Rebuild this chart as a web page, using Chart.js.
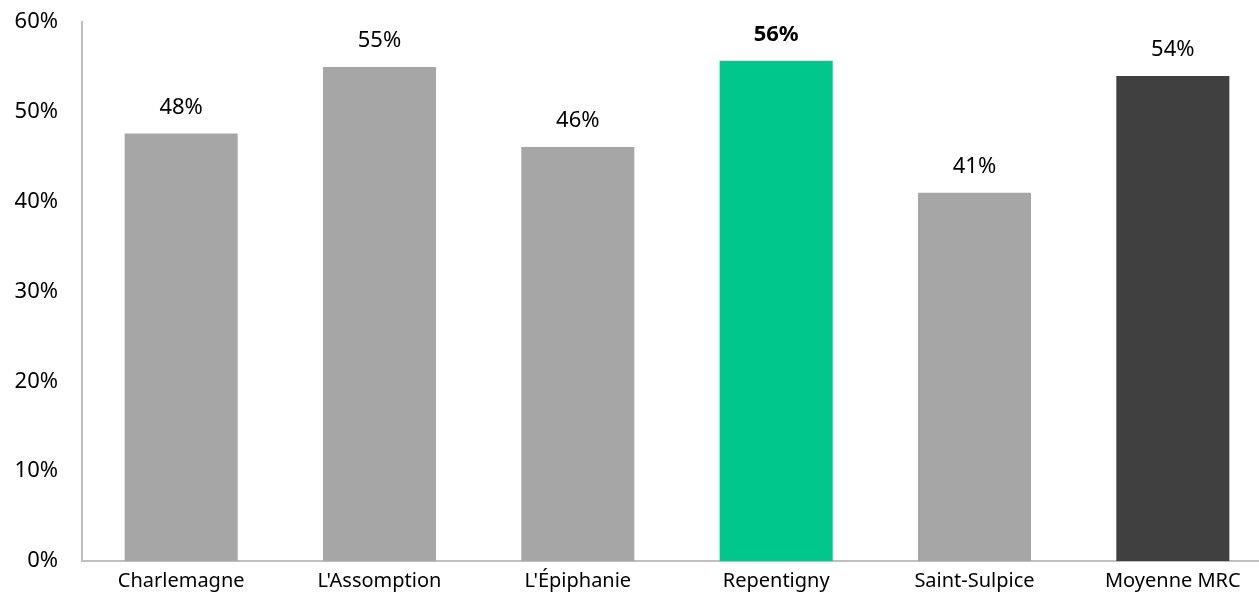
<!DOCTYPE html>
<html>
<head>
<meta charset="utf-8">
<script src="https://cdn.jsdelivr.net/npm/chart.js@4"></script>
<style>
    html, body { margin: 0; padding: 0; background: #fff; overflow: hidden; }
    #wrap { width: 1272px; height: 616px; position: relative; margin-top: -15px; }
</style>
</head>
<body>
<div id="wrap"><canvas id="bar-chart"></canvas></div>
<script>
// 数据
const categories = ['Charlemagne', "L'Assomption", "L'Épiphanie", 'Repentigny', 'Saint-Sulpice', 'Moyenne MRC'];
const values = [47.6, 55.0, 46.1, 55.7, 41.0, 54.0];
const valueLabels = ['48%', '55%', '46%', '56%', '41%', '54%'];
const barColors = ['#a6a6a6', '#a6a6a6', '#a6a6a6', '#00c78c', '#a6a6a6', '#404040'];
const boldIndex = 3; // Repentigny 标签加粗

const FONT = "'Noto Sans', 'Open Sans', sans-serif";

// 柱顶数值标签
const valueLabelPlugin = {
    id: 'valueLabels',
    afterDatasetsDraw(chart) {
        const ctx = chart.ctx;
        const meta = chart.getDatasetMeta(0);
        ctx.save();
        ctx.fillStyle = '#000';
        ctx.textAlign = 'center';
        ctx.textBaseline = 'middle';
        meta.data.forEach((bar, i) => {
            ctx.font = (i === boldIndex ? 'bold ' : '') + '22px ' + FONT;
            ctx.fillText(valueLabels[i], bar.x, bar.y - 26);
        });
        ctx.restore();
    }
};

new Chart(document.getElementById('bar-chart'), {
    type: 'bar',
    data: {
        labels: categories,
        datasets: [{
            data: values,
            backgroundColor: barColors,
            borderWidth: 0,
            categoryPercentage: 1.0,
            barPercentage: 0.57
        }]
    },
    options: {
        responsive: true,
        maintainAspectRatio: false,
        animation: false,
        layout: { padding: { top: 7, right: 0, bottom: 0, left: 0 } },
        plugins: {
            legend: { display: false },
            tooltip: { enabled: false }
        },
        scales: {
            x: {
                grid: { display: false, drawTicks: false },
                border: { color: '#bfbfbf', width: 2 },
                ticks: {
                    color: '#000',
                    padding: 8,
                    font: { family: FONT, size: 20 },
                    maxRotation: 0,
                    autoSkip: false
                }
            },
            y: {
                min: 0,
                max: 60,
                afterFit(scale) { scale.width = 82; },
                grid: { display: false, drawTicks: false },
                border: { color: '#bfbfbf', width: 2 },
                ticks: {
                    stepSize: 10,
                    color: '#000',
                    padding: 24,
                    font: { family: FONT, size: 22 },
                    callback: v => v + '%'
                }
            }
        }
    },
    plugins: [valueLabelPlugin]
});
</script>
</body>
</html>
